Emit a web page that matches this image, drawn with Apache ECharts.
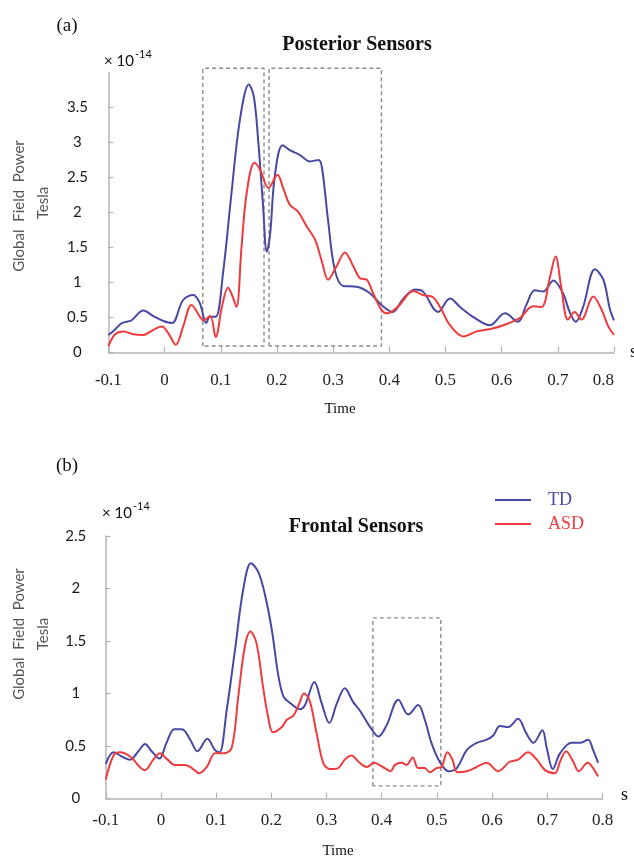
<!DOCTYPE html>
<html><head><meta charset="utf-8">
<script src="https://cdn.jsdelivr.net/npm/echarts@6/dist/echarts.min.js"></script>
<style>html,body{margin:0;padding:0;background:#fff}#c{width:634px;height:858px}</style>
</head><body><div id="c"></div>
<script>
// ---- Data (time in s, field power in units of 1e-14 T) ----
const postTdT = [-0.1,-0.092,-0.076,-0.059,-0.038,-0.020,-0.002,0.013,0.033,0.051,0.063,0.074,0.081,0.091,0.104,0.119,0.134,0.150,0.159,0.167,0.175,0.182,0.188,0.196,0.210,0.223,0.241,0.259,0.274,0.280,0.291,0.303,0.318,0.342,0.365,0.386,0.406,0.425,0.446,0.460,0.487,0.508,0.526,0.549,0.579,0.606,0.629,0.644,0.659,0.674,0.692,0.709,0.721,0.732,0.745,0.766,0.781,0.793,0.8];
const postTdV = [0.25,0.30,0.42,0.46,0.60,0.52,0.45,0.42,0.75,0.82,0.70,0.42,0.51,0.51,1.13,2.27,3.32,3.83,3.65,2.99,2.13,1.44,1.70,2.51,2.96,2.89,2.82,2.73,2.75,2.65,1.89,1.18,0.95,0.94,0.85,0.68,0.58,0.77,0.90,0.87,0.58,0.77,0.65,0.51,0.39,0.56,0.44,0.68,0.89,0.87,1.03,0.85,0.58,0.44,0.65,1.19,1.04,0.61,0.46];
const postAsdT = [-0.1,-0.088,-0.073,-0.056,-0.038,-0.023,-0.005,0.007,0.020,0.033,0.048,0.063,0.069,0.081,0.091,0.102,0.113,0.121,0.128,0.137,0.146,0.160,0.170,0.185,0.201,0.211,0.223,0.238,0.253,0.268,0.280,0.291,0.306,0.321,0.336,0.348,0.360,0.371,0.386,0.397,0.416,0.443,0.460,0.478,0.493,0.508,0.532,0.555,0.582,0.603,0.632,0.656,0.671,0.686,0.696,0.706,0.718,0.730,0.742,0.763,0.778,0.790,0.8];
const postAsdV = [0.09,0.26,0.30,0.26,0.25,0.31,0.37,0.27,0.11,0.37,0.68,0.51,0.46,0.52,0.22,0.65,0.93,0.80,0.65,1.51,2.27,2.71,2.61,2.35,2.54,2.35,2.11,2.01,1.80,1.61,1.30,1.04,1.23,1.43,1.23,1.06,1.04,0.85,0.61,0.56,0.66,0.88,0.82,0.79,0.61,0.39,0.23,0.30,0.34,0.39,0.49,0.66,0.65,1.08,1.37,0.94,0.47,0.58,0.47,0.80,0.61,0.37,0.25];
const frontTdT = [-0.1,-0.086,-0.071,-0.056,-0.041,-0.029,-0.017,-0.003,0.010,0.024,0.038,0.053,0.066,0.084,0.098,0.106,0.119,0.134,0.149,0.163,0.176,0.188,0.201,0.212,0.222,0.234,0.252,0.261,0.278,0.291,0.305,0.319,0.333,0.348,0.360,0.379,0.394,0.409,0.430,0.448,0.466,0.478,0.490,0.505,0.521,0.536,0.554,0.572,0.590,0.602,0.614,0.629,0.647,0.662,0.675,0.691,0.699,0.710,0.723,0.744,0.759,0.774,0.783,0.792];
const frontTdV = [0.33,0.44,0.40,0.37,0.45,0.52,0.45,0.38,0.53,0.66,0.66,0.56,0.45,0.57,0.46,0.44,0.84,1.41,1.99,2.24,2.16,1.95,1.60,1.19,0.97,0.91,0.85,0.89,1.11,0.91,0.72,0.91,1.05,0.92,0.84,0.68,0.59,0.70,0.94,0.80,0.89,0.75,0.53,0.35,0.26,0.29,0.46,0.53,0.56,0.60,0.69,0.68,0.76,0.62,0.53,0.65,0.48,0.28,0.43,0.53,0.53,0.56,0.46,0.34];
const frontAsdT = [-0.1,-0.086,-0.074,-0.056,-0.029,-0.014,-0.002,0.010,0.025,0.043,0.056,0.069,0.083,0.098,0.113,0.128,0.140,0.152,0.162,0.173,0.185,0.194,0.203,0.219,0.228,0.240,0.251,0.259,0.269,0.282,0.294,0.306,0.321,0.333,0.345,0.360,0.373,0.386,0.402,0.416,0.424,0.436,0.445,0.456,0.466,0.478,0.487,0.499,0.508,0.519,0.528,0.537,0.554,0.572,0.590,0.611,0.632,0.647,0.665,0.681,0.696,0.714,0.723,0.734,0.747,0.757,0.773,0.783,0.792];
const frontAsdV = [0.18,0.41,0.44,0.40,0.27,0.37,0.43,0.38,0.32,0.32,0.29,0.24,0.30,0.43,0.43,0.48,0.97,1.45,1.59,1.48,1.06,0.78,0.63,0.68,0.75,0.79,0.91,1.00,0.94,0.62,0.34,0.28,0.29,0.37,0.41,0.34,0.30,0.34,0.30,0.26,0.32,0.34,0.32,0.39,0.29,0.29,0.25,0.29,0.30,0.44,0.37,0.25,0.26,0.30,0.34,0.26,0.35,0.37,0.44,0.37,0.27,0.24,0.35,0.45,0.35,0.26,0.34,0.29,0.21];
// dashed analysis windows: [tStart, tEnd, vLow, vHigh]
const postBoxes = [[0.068, 0.177, 0.093, 4.06], [0.186, 0.386, 0.093, 4.06]];
const frontBoxes = [[0.384, 0.507, 0.12, 1.72]];
const seriesNames = ['TD', 'ASD'];
const panelTitles = ['Posterior Sensors', 'Frontal Sensors'];

const BLUE = '#4848a2', RED = '#ee3c3e';
const zip = (t, v) => t.map((x, i) => [x, v[i]]);
const boxPath = b => [[b[0], b[2]], [b[0], b[3]], [b[1], b[3]], [b[1], b[2]], [b[0], b[2]]];

const AX = '#b4b4b4';
function xAx(gi, margin, alignMax) {
  return {
    gridIndex: gi, type: 'value', min: -0.1, max: 0.8, interval: 0.1,
    axisLine: { show: true, onZero: false, lineStyle: { color: AX, width: 1.5 } },
    axisTick: { show: true, inside: true, length: 6, lineStyle: { color: AX, width: 1.2 } },
    axisLabel: { margin: margin, fontFamily: 'Liberation Serif', fontSize: 17, color: '#222',
      alignMaxLabel: alignMax, formatter: v => String(Math.round(v * 10) / 10) },
    splitLine: { show: false }
  };
}
function yAx(gi, max, showMax, margin) {
  return {
    gridIndex: gi, type: 'value', min: 0, max: max, interval: 0.5,
    axisLine: { show: true, onZero: false, lineStyle: { color: AX, width: 1.5 } },
    axisTick: { show: true, inside: true, length: 5, lineStyle: { color: AX, width: 1.2 } },
    axisLabel: { showMaxLabel: showMax, align: 'center', margin: margin, fontFamily: 'Lato', fontSize: 15, color: '#1a1a1a',
      formatter: v => String(Math.round(v * 10) / 10) },
    splitLine: { show: false }
  };
}
function curve(name, gi, data, color) {
  return { name: name, type: 'line', xAxisIndex: gi, yAxisIndex: gi, data: data, smooth: 0.35,
    symbol: 'none', lineStyle: { color: color, width: 2 }, itemStyle: { color: color }, z: 3 };
}
function box(gi, b) {
  return { type: 'line', xAxisIndex: gi, yAxisIndex: gi, data: boxPath(b), symbol: 'none', clip: false, silent: true,
    lineStyle: { color: '#8c8c8c', width: 1.4, type: [4, 3] }, z: 2 };
}
function txt(text, x, y, o) {
  return Object.assign({ type: 'text', x: x, y: y, silent: true,
    style: Object.assign({ text: text, textAlign: 'center', textVerticalAlign: 'middle', fill: '#111',
      fontFamily: 'Liberation Serif', fontSize: 16 }, o.style || {}) }, o.el || {});
}
const sciRich = {
  a: { fontFamily: 'Lato', fontSize: 15, color: '#222', lineHeight: 20, verticalAlign: 'bottom' },
  b: { fontFamily: 'Lato', fontSize: 11, color: '#222', lineHeight: 20, verticalAlign: 'top', padding: [0, 0, 0, 1] }
};

const series = [
  curve(seriesNames[0], 0, zip(postTdT, postTdV), BLUE),
  curve(seriesNames[1], 0, zip(postAsdT, postAsdV), RED),
  curve(seriesNames[0], 1, zip(frontTdT, frontTdV), BLUE),
  curve(seriesNames[1], 1, zip(frontAsdT, frontAsdV), RED)
].concat(postBoxes.map(b => box(0, b)), frontBoxes.map(b => box(1, b)));

const graphic = [
  txt('(a)', 67, 26, { style: { fontSize: 19 } }),
  txt('(b)', 67, 466, { style: { fontSize: 19 } }),
  txt(panelTitles[0], 357, 45, { style: { fontSize: 20, fontWeight: 'bold' } }),
  txt(panelTitles[1], 356, 527, { style: { fontSize: 20, fontWeight: 'bold' } }),
  txt('{a|× 10}{b|-14}', 104, 59, { style: { textAlign: 'left', rich: sciRich } }),
  txt('{a|× 10}{b|-14}', 102, 511, { style: { textAlign: 'left', rich: sciRich } }),
  txt('Global  Field  Power', 19, 206, { style: { fontFamily: 'Lato', fontSize: 15, fill: '#555' }, el: { rotation: Math.PI / 2 } }),
  txt('Tesla', 43, 203, { style: { fontFamily: 'Lato', fontSize: 15, fill: '#555' }, el: { rotation: Math.PI / 2 } }),
  txt('Global  Field  Power', 19, 634, { style: { fontFamily: 'Lato', fontSize: 15, fill: '#555' }, el: { rotation: Math.PI / 2 } }),
  txt('Tesla', 43, 634, { style: { fontFamily: 'Lato', fontSize: 15, fill: '#555' }, el: { rotation: Math.PI / 2 } }),
  txt('Time', 340, 409, { style: { fontSize: 15 } }),
  txt('Time', 338, 851, { style: { fontSize: 15 } }),
  txt('s', 630, 352, { style: { fontSize: 18, textAlign: 'left' } }),
  txt('s', 621, 795, { style: { fontSize: 18, textAlign: 'left' } })
];

const chart = echarts.init(document.getElementById('c'), null, { renderer: 'canvas' });
chart.setOption({
  animation: false,
  backgroundColor: '#fff',
  grid: [
    { left: 108.4, right: 20, top: 72.5, height: 280 },
    { left: 105.8, right: 31.5, top: 536, height: 262.5 }
  ],
  xAxis: [xAx(0, 20, 'right'), xAx(1, 14, null)],
  yAxis: [yAx(0, 4, false, 31), yAx(1, 2.5, true, 30)],
  legend: {
    data: [{ name: 'TD', textStyle: { color: BLUE } }, { name: 'ASD', textStyle: { color: RED } }],
    orient: 'vertical', left: 490, top: 486, icon: 'rect', itemWidth: 36, itemHeight: 2, itemGap: 6,
    textStyle: { fontFamily: 'Liberation Serif', fontSize: 18, padding: [0, 0, 0, 12] }
  },
  series: series,
  graphic: graphic
});
</script>
</body></html>
